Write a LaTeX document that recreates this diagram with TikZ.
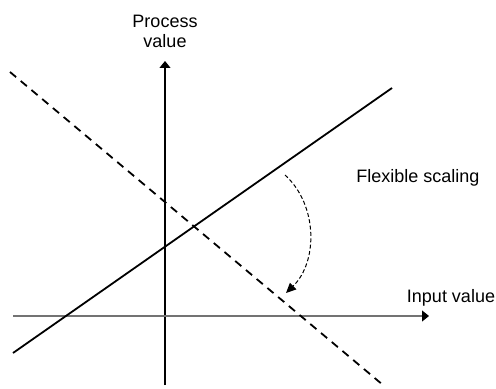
\documentclass[tikz,border=0pt]{standalone}
\usepackage{fontspec}
\setmainfont{Liberation Sans}
\usetikzlibrary{arrows.meta}
\begin{document}
\begin{tikzpicture}[x=0.5pt,y=-0.5pt,
  axis/.style={line width=0.55pt,-{Triangle[length=3.5pt,width=5.5pt,black]}},
  solidline/.style={line width=0.9pt},
  dashline/.style={line width=0.9pt,dash pattern=on 4pt off 3pt},
  scalearrow/.style={line width=0.5pt,dash pattern=on 2pt off 1.2pt,-{Triangle[length=5pt,width=4.5pt]}},
  lbl/.style={font=\fontsize{9pt}{11pt}\selectfont,inner sep=0pt,align=center}]
\useasboundingbox (0,0) rectangle (496,389);
% axes
\coordinate (vb) at (165,385);
\coordinate (vt) at (165,61);
\coordinate (hl) at (13,316);
\coordinate (hr) at (429,316);
\draw[axis,draw=black] (vb) -- (vt);
\draw[axis,draw=black!55] (hl) -- (hr);
% lines
\coordinate (s1) at (13,353);
\coordinate (s2) at (392,88);
\draw[solidline] (s1) -- (s2);
\coordinate (d1) at (10,72);
\coordinate (d2) at (383,385);
\draw[dashline] (d1) -- (d2);
% scaling arrow
\coordinate (a1) at (285,175);
\coordinate (a2) at (286,293);
\draw[scalearrow] (a1) .. controls (318,205) and (318,262) .. (a2);
% labels
\node[lbl] (pv) at (165,31) {Process\\[-1pt]value};
\node[lbl,anchor=base] (iv) at (451,302) {Input value};
\node[lbl,anchor=base] (fs) at (418,183) {Flexible scaling};
\end{tikzpicture}
\end{document}
